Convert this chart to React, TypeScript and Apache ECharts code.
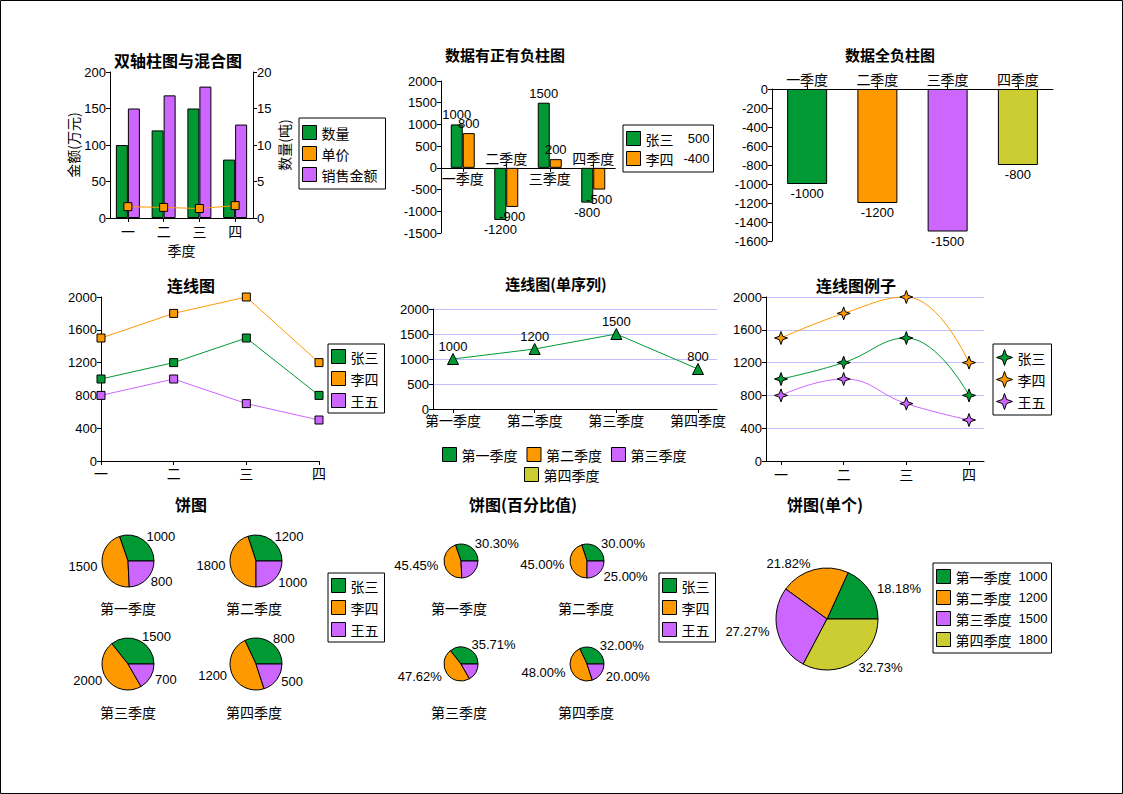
import React, { useEffect, useRef } from 'react';
import * as echarts from 'echarts';

// ---------- data ----------
const quarterShort = ['一', '二', '三', '四'];
const quarterNames = ['一季度', '二季度', '三季度', '四季度'];
const quarterFull = ['第一季度', '第二季度', '第三季度', '第四季度'];
const people = ['张三', '李四', '王五'];

const mixedAmount = [150, 168, 180, 128]; // 销售金额 (万元)
const mixedQuantity = [10, 12, 15, 8]; // 数量 (吨)
const mixedPrice = [1.55, 1.45, 1.3, 1.7]; // 单价

const posNegZhang = [1000, -1200, 1500, -800];
const posNegLi = [800, -900, 200, -500];
const posNegMin = -1500;
const posNegMax = 2000;

const allNegative = [-1000, -1200, -1500, -800];

const zhangSan = [1000, 1200, 1500, 800];
const liSi = [1500, 1800, 2000, 1200];
const wangWu = [800, 1000, 700, 500];

const singleSeries = [1000, 1200, 1500, 800];
const singlePie = [1000, 1200, 1500, 1800];

// ---------- style ----------
const GREEN = '#009933';
const ORANGE = '#FF9900';
const PURPLE = '#CC66FF';
const OLIVE = '#CCCC33';
const SPLIT = '#C0C0FF';
const PEOPLE_COLORS = [GREEN, ORANGE, PURPLE];
const QUARTER_COLORS = [GREEN, ORANGE, PURPLE, OLIVE];
const NUM_FONT = '"Liberation Sans", "Noto Sans CJK SC", sans-serif';
const CJK_FONT = '"Noto Sans CJK SC", "Liberation Sans", sans-serif';
const STAR = 'path://M5 0 L6.3 3.7 L10 5 L6.3 6.3 L5 10 L3.7 6.3 L0 5 L3.7 3.7 Z';

const sum = (a: number[]) => a.reduce((s, v) => s + v, 0);
const plain = (v: number) => String(v);

const line = { lineStyle: { color: '#000', width: 1 } };
const tick = (extra: any = {}) => ({ show: true, length: 4, lineStyle: { color: '#000' }, ...extra });
const numLabel = (extra: any = {}) => ({ color: '#000', fontSize: 13, fontFamily: NUM_FONT, margin: 4, formatter: plain, ...extra });
const cjkLabel = (extra: any = {}) => ({ color: '#000', fontSize: 14, fontFamily: CJK_FONT, margin: 5, ...extra });

function valueAxis(gridIndex: number, min: number, max: number, interval: number, extra: any = {}) {
  return {
    type: 'value',
    gridIndex,
    min,
    max,
    interval,
    axisLine: { show: true, ...line },
    axisTick: tick(),
    axisLabel: numLabel(),
    splitLine: { show: false },
    ...extra,
  };
}

function hiddenValueAxis(gridIndex: number) {
  return { type: 'value', gridIndex, min: 0, max: 2000, show: false, splitLine: { show: false } };
}

const titleStyle = (size: number) => ({ color: '#000', fontSize: size, fontWeight: 'bold', fontFamily: CJK_FONT });
const mkTitle = (text: string, left: number, top: number, size = 16, bold = true) => ({
  text,
  left,
  top,
  textAlign: 'center',
  padding: 0,
  textStyle: bold ? titleStyle(size) : { color: '#000', fontSize: size, fontWeight: 'normal', fontFamily: CJK_FONT },
});

const legendBase = (extra: any) => ({
  orient: 'vertical',
  icon: 'rect',
  itemWidth: 14,
  itemHeight: 14,
  itemGap: 6,
  borderColor: '#000',
  borderWidth: 1,
  backgroundColor: '#fff',
  selectedMode: false,
  itemStyle: { borderColor: '#000', borderWidth: 1 },
  textStyle: { color: '#000', fontSize: 14, fontFamily: CJK_FONT },
  ...extra,
});

const pieBase = {
  type: 'pie',
  startAngle: 0,
  clockwise: false,
  avoidLabelOverlap: false,
  itemStyle: { borderColor: '#000', borderWidth: 1 },
  labelLine: { show: false, length: 5, length2: 0 },
  emphasis: { disabled: true },
};

function buildOption() {
  const peopleData = [zhangSan, liSi, wangWu];
  const pieCenters = [
    [128, 561],
    [256, 561],
    [128, 664],
    [256, 664],
  ];
  const pctCenters = [
    [461, 561],
    [587, 561],
    [461, 664],
    [587, 664],
  ];
  const pieSeries: any[] = [];
  quarterFull.forEach((q, i) => {
    const data = people.map((n, k) => ({ name: n, value: peopleData[k][i], itemStyle: { color: PEOPLE_COLORS[k] } }));
    const total = sum(data.map((d) => d.value));
    pieSeries.push({
      ...pieBase,
      name: '饼图-' + q,
      center: pieCenters[i],
      radius: 26,
      data,
      labelLine: { show: false, length: 4, length2: 0 },
      label: { show: true, position: 'outside', color: '#000', fontSize: 13, fontFamily: NUM_FONT, distanceToLabelLine: 1, formatter: '{c}' },
    });
    pieSeries.push({
      ...pieBase,
      name: '百分比饼图-' + q,
      center: pctCenters[i],
      radius: 17,
      data,
      label: {
        show: true,
        position: 'outside',
        color: '#000',
        fontSize: 13,
        fontFamily: NUM_FONT,
        distanceToLabelLine: 1,
        formatter: (p: any) => ((p.value / total) * 100).toFixed(2) + '%',
      },
    });
  });
  const singleTotal = sum(singlePie);
  pieSeries.push({
    ...pieBase,
    name: '饼图单个',
    center: [827, 619],
    radius: 51,
    data: quarterFull.map((q, i) => ({ name: q, value: singlePie[i], itemStyle: { color: QUARTER_COLORS[i] } })),
    labelLine: { show: false, length: 6, length2: 0 },
    label: {
      show: true,
      position: 'outside',
      color: '#000',
      fontSize: 13,
      fontFamily: NUM_FONT,
      distanceToLabelLine: 2,
      formatter: (p: any) => ((p.value / singleTotal) * 100).toFixed(2) + '%',
    },
  });

  const barBorder = { borderColor: '#000', borderWidth: 1 };
  const barLabel = { show: true, color: '#000', fontSize: 13, fontFamily: NUM_FONT, distance: 3 };

  const lineSeries = (name: string, data: number[], color: string, xi: number, yi: number, extra: any = {}) => ({
    type: 'line',
    name,
    xAxisIndex: xi,
    yAxisIndex: yi,
    data,
    symbol: 'rect',
    symbolSize: 8,
    color,
    lineStyle: { color, width: 1 },
    itemStyle: { color, borderColor: '#000', borderWidth: 1 },
    emphasis: { disabled: true },
    z: 3,
    ...extra,
  });

  const posNegSums: Record<string, number> = { 张三: sum(posNegZhang), 李四: sum(posNegLi) };
  const singlePieMap: Record<string, number> = {};
  quarterFull.forEach((q, i) => (singlePieMap[q] = singlePie[i]));

  // panel 2 grid geometry: category labels sit next to the zero line
  const g2 = { left: 441, top: 81, width: 174, height: 152 };
  const zeroFromTop = (g2.height * posNegMax) / (posNegMax - posNegMin);
  const zeroFromBottom = g2.height - zeroFromTop;

  return {
    animation: false,
    backgroundColor: '#fff',
    textStyle: { fontFamily: NUM_FONT },
    title: [
      mkTitle('双轴柱图与混合图', 178, 52, 16),
      mkTitle('数据有正有负柱图', 505, 47, 15),
      mkTitle('数据全负柱图', 890, 47, 15),
      mkTitle('连线图', 191, 277, 16),
      mkTitle('连线图(单序列)', 556, 276, 15),
      mkTitle('连线图例子', 856, 277, 16),
      mkTitle('饼图', 191, 496, 16),
      mkTitle('饼图(百分比值)', 523, 496, 16),
      mkTitle('饼图(单个)', 825, 496, 16),
      mkTitle(quarterFull[0], 128, 601, 14, false),
      mkTitle(quarterFull[1], 254, 601, 14, false),
      mkTitle(quarterFull[2], 128, 705, 14, false),
      mkTitle(quarterFull[3], 254, 705, 14, false),
      mkTitle(quarterFull[0], 459, 601, 14, false),
      mkTitle(quarterFull[1], 586, 601, 14, false),
      mkTitle(quarterFull[2], 459, 705, 14, false),
      mkTitle(quarterFull[3], 586, 705, 14, false),
    ],
    grid: [
      { left: 110, top: 72, width: 143, height: 146 },
      g2,
      { left: 772, top: 89, width: 281, height: 152 },
      { left: 101, top: 297, width: 218, height: 164 },
      { left: 433, top: 309, width: 284, height: 100 },
      { left: 453, top: 309, width: 245, height: 100 },
      { left: 766, top: 297, width: 218, height: 164 },
      { left: 781, top: 297, width: 188, height: 164 },
    ],
    xAxis: [
      {
        type: 'category',
        gridIndex: 0,
        data: quarterShort,
        axisLine: line,
        axisTick: tick({ alignWithLabel: true }),
        axisLabel: cjkLabel({ margin: 6 }),
        name: '季度',
        nameLocation: 'middle',
        nameGap: 25,
        nameTextStyle: { color: '#000', fontSize: 14, fontFamily: CJK_FONT },
      },
      {
        type: 'category',
        gridIndex: 1,
        position: 'bottom',
        data: quarterNames,
        axisLine: { onZero: true, onZeroAxisIndex: 2, ...line },
        axisTick: tick({ alignWithLabel: true, interval: (i: number) => i % 2 === 0 }),
        axisLabel: cjkLabel({ margin: 3 - zeroFromBottom, interval: (i: number) => i % 2 === 0 }),
      },
      {
        type: 'category',
        gridIndex: 1,
        position: 'top',
        data: quarterNames,
        axisLine: { onZero: true, onZeroAxisIndex: 2, ...line },
        axisTick: tick({ alignWithLabel: true, interval: (i: number) => i % 2 === 1 }),
        axisLabel: cjkLabel({ margin: 3 - zeroFromTop, interval: (i: number) => i % 2 === 1 }),
      },
      {
        type: 'category',
        gridIndex: 2,
        position: 'top',
        data: quarterNames,
        axisLine: line,
        axisTick: tick({ alignWithLabel: true }),
        axisLabel: cjkLabel({ margin: 3 }),
      },
      {
        type: 'category',
        gridIndex: 3,
        data: quarterShort,
        boundaryGap: false,
        axisLine: line,
        axisTick: tick(),
        axisLabel: cjkLabel({ margin: 5 }),
      },
      {
        type: 'category',
        gridIndex: 4,
        data: quarterFull,
        boundaryGap: false,
        axisLine: line,
        axisTick: { show: false },
        axisLabel: { show: false },
      },
      {
        type: 'category',
        gridIndex: 5,
        data: quarterFull,
        boundaryGap: false,
        axisLine: { show: false },
        axisTick: tick(),
        axisLabel: cjkLabel({ margin: 4 }),
      },
      {
        type: 'category',
        gridIndex: 6,
        data: quarterShort,
        boundaryGap: false,
        axisLine: line,
        axisTick: { show: false },
        axisLabel: { show: false },
      },
      {
        type: 'category',
        gridIndex: 7,
        data: quarterShort,
        boundaryGap: false,
        axisLine: { show: false },
        axisTick: tick(),
        axisLabel: cjkLabel({ margin: 6 }),
      },
    ],
    yAxis: [
      valueAxis(0, 0, 200, 50, {
        position: 'left',
        name: '金额(万元)',
        nameLocation: 'middle',
        nameRotate: 90,
        nameGap: 30,
        nameTextStyle: { color: '#000', fontSize: 14, fontFamily: CJK_FONT },
      }),
      valueAxis(0, 0, 20, 5, {
        position: 'right',
        name: '数量(吨)',
        nameLocation: 'middle',
        nameRotate: 90,
        nameGap: 24,
        nameTextStyle: { color: '#000', fontSize: 14, fontFamily: CJK_FONT },
      }),
      valueAxis(1, posNegMin, posNegMax, 500),
      valueAxis(2, -1600, 0, 200),
      valueAxis(3, 0, 2000, 400),
      valueAxis(4, 0, 2000, 500, { splitLine: { show: true, lineStyle: { color: SPLIT, width: 1 } } }),
      hiddenValueAxis(5),
      valueAxis(6, 0, 2000, 400, { splitLine: { show: true, lineStyle: { color: SPLIT, width: 1 } } }),
      hiddenValueAxis(7),
    ],
    legend: [
      legendBase({
        data: ['数量', '单价', '销售金额'],
        left: 299,
        top: 118,
        padding: [7, 8, 7, 3],
      }),
      legendBase({
        data: ['张三', '李四'],
        left: 623,
        top: 125,
        itemGap: 5,
        padding: [6, 4, 6, 3],
        formatter: (name: string) => `{n|${name}}{v|${posNegSums[name]}}`,
        textStyle: {
          color: '#000',
          fontSize: 14,
          fontFamily: CJK_FONT,
          rich: {
            n: { width: 28, fontSize: 14, fontFamily: CJK_FONT, color: '#000' },
            v: { width: 36, align: 'right', fontSize: 13, fontFamily: NUM_FONT, color: '#000' },
          },
        },
      }),
      legendBase({ data: people, left: 328, top: 344, itemGap: 7, padding: [5, 6, 5, 3] }),
      legendBase({
        data: quarterFull.slice(0, 3),
        orient: 'horizontal',
        left: 442,
        top: 447,
        itemGap: 9,
        padding: 0,
        borderWidth: 0,
        backgroundColor: 'transparent',
      }),
      legendBase({
        data: quarterFull.slice(3),
        orient: 'horizontal',
        left: 524,
        top: 467,
        padding: 0,
        borderWidth: 0,
        backgroundColor: 'transparent',
      }),
      legendBase({
        data: people,
        left: 993,
        top: 344,
        icon: STAR,
        itemWidth: 16,
        itemHeight: 16,
        itemGap: 5,
        padding: [5, 6, 5, 3],
      }),
      legendBase({ data: people, left: 328, top: 573, itemGap: 7, padding: [5, 6, 5, 3] }),
      legendBase({ data: people, left: 659, top: 573, itemGap: 7, padding: [5, 6, 5, 3] }),
      legendBase({
        data: quarterFull,
        left: 933,
        top: 563,
        itemGap: 6,
        padding: [6, 4, 6, 3],
        formatter: (name: string) => `{n|${name}}{v|${singlePieMap[name]}}`,
        textStyle: {
          color: '#000',
          fontSize: 14,
          fontFamily: CJK_FONT,
          rich: {
            n: { width: 56, fontSize: 14, fontFamily: CJK_FONT, color: '#000' },
            v: { width: 36, align: 'right', fontSize: 13, fontFamily: NUM_FONT, color: '#000' },
          },
        },
      }),
    ],
    series: [
      // panel 1
      {
        type: 'bar',
        name: '数量',
        xAxisIndex: 0,
        yAxisIndex: 1,
        data: mixedQuantity,
        barWidth: 12,
        barGap: '0%',
        itemStyle: { color: GREEN, ...barBorder },
        emphasis: { disabled: true },
      },
      lineSeries('单价', mixedPrice, ORANGE, 0, 1),
      {
        type: 'bar',
        name: '销售金额',
        xAxisIndex: 0,
        yAxisIndex: 0,
        data: mixedAmount,
        barWidth: 12,
        barGap: '0%',
        itemStyle: { color: PURPLE, ...barBorder },
        emphasis: { disabled: true },
      },
      // panel 2
      {
        type: 'bar',
        name: '张三',
        xAxisIndex: 1,
        yAxisIndex: 2,
        barWidth: 12,
        barGap: '0%',
        data: posNegZhang.map((v) => ({ value: v, label: { position: v < 0 ? 'bottom' : 'top' } })),
        itemStyle: { color: GREEN, ...barBorder },
        label: barLabel,
        emphasis: { disabled: true },
      },
      {
        type: 'bar',
        name: '李四',
        xAxisIndex: 1,
        yAxisIndex: 2,
        barWidth: 12,
        barGap: '0%',
        data: posNegLi.map((v) => ({ value: v, label: { position: v < 0 ? 'bottom' : 'top' } })),
        itemStyle: { color: ORANGE, ...barBorder },
        label: barLabel,
        emphasis: { disabled: true },
      },
      // panel 3
      {
        type: 'bar',
        name: '全负',
        xAxisIndex: 3,
        yAxisIndex: 3,
        barWidth: 40,
        data: allNegative.map((v, i) => ({ value: v, itemStyle: { color: QUARTER_COLORS[i], ...barBorder } })),
        label: { ...barLabel, position: 'bottom' },
        emphasis: { disabled: true },
      },
      // panel 4
      lineSeries('张三', zhangSan, GREEN, 4, 4),
      lineSeries('李四', liSi, ORANGE, 4, 4),
      lineSeries('王五', wangWu, PURPLE, 4, 4),
      // panel 5
      lineSeries('单序列', singleSeries, GREEN, 6, 6, {
        symbol: 'triangle',
        symbolSize: 11,
        label: { show: true, position: 'top', distance: 0, color: '#000', fontSize: 13, fontFamily: NUM_FONT },
      }),
      // panel 6
      lineSeries('张三', zhangSan, GREEN, 8, 8, { symbol: STAR, symbolSize: 13, smooth: 0.45 }),
      lineSeries('李四', liSi, ORANGE, 8, 8, { symbol: STAR, symbolSize: 13, smooth: 0.45 }),
      lineSeries('王五', wangWu, PURPLE, 8, 8, { symbol: STAR, symbolSize: 13, smooth: 0.45 }),
      // pies
      ...pieSeries,
    ],
    graphic: [
      {
        type: 'rect',
        shape: { x: 0.5, y: 0.5, width: 1122, height: 793 },
        style: { fill: 'none', stroke: '#000', lineWidth: 1 },
        silent: true,
        z: 100,
      },
    ],
  };
}

export default function App() {
  const ref = useRef<HTMLDivElement>(null);
  useEffect(() => {
    if (!ref.current) return;
    const chart = echarts.init(ref.current, undefined, { renderer: 'svg' });
    chart.setOption(buildOption() as any);
    return () => chart.dispose();
  }, []);
  return (
    <div
      ref={ref}
      style={{ position: 'absolute', left: 0, top: 0, width: 1123, height: 794, background: '#fff' }}
    />
  );
}
